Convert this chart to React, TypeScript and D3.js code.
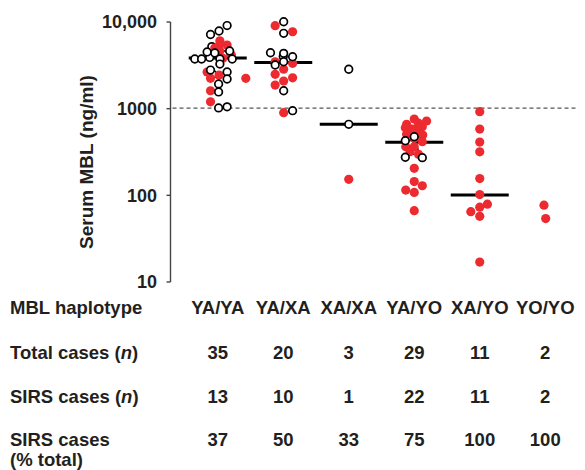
import * as d3 from "d3";

const haplotypes = ["YA/YA", "YA/XA", "XA/XA", "YA/YO", "XA/YO", "YO/YO"];
const totalCases = [35, 20, 3, 29, 11, 2];
const sirsCases = [13, 10, 1, 22, 11, 2];
const sirsPercent = [37, 50, 33, 75, 100, 100];
const medians = [3850, 3420, 660, 409, 101, null];
const yTicks = [10, 100, 1000, 10000];
const cutoff = 1000;

// each point: [serum MBL (ng/ml), jitter slot, SIRS case (1) or not (0)]
// listed in drawing order
const yaya = [
  [5200, -0.7, 0], [2500, -0.6, 0], [4200, 0.7, 0], [3900, -0.95, 0],
  [6080, 0.25, 1], [5290, 0.15, 1], [5430, 1.1, 1], [4630, 0.25, 1], [4160, 1.6, 1],
  [3810, 0.6, 1], [2650, -1.25, 1], [2440, 0.15, 1], [2240, -0.85, 1], [1610, -0.85, 1],
  [1200, -0.85, 1], [2240, 3.3, 1], [5000, -0.35, 1],
  [9100, 1.1, 0], [7870, 0.15, 0], [7170, -0.85, 0], [4510, -1.25, 0], [4630, 1.4, 0],
  [3740, -2.7, 0], [3740, -1.9, 0], [4390, -0.35, 0], [3740, 0.25, 0], [3740, 1.7, 0],
  [3270, 0.25, 0], [2790, -0.85, 0], [2650, 1.1, 0], [2200, 1.1, 0], [1930, 0.1, 0],
  [1560, 0.1, 0], [1020, 0.1, 0], [1050, 1.1, 0],
];
const yaxa = [
  [4000, 0, 0],
  [9060, -0.95, 1], [7720, 1.1, 1], [3480, -0.95, 1], [3340, 1.1, 1], [2850, 0.05, 1],
  [2490, -0.95, 1], [2270, 1.1, 1], [2080, 0.05, 1], [1870, -0.95, 1], [899, 0.05, 1],
  [10070, 0.05, 0], [7410, 0.05, 0], [4420, -1.5, 0], [4350, 0.05, 0], [3980, 1.1, 0],
  [3480, 0.05, 0], [3190, -0.95, 0], [1610, 0.05, 0], [947, 1.1, 0],
];
const xaxa = [
  [2850, 0, 0], [660, 0, 0], [153, 0, 1],
];
const yayo = [
  [520, 0.5, 0], [390, -0.5, 0], [330, 0, 0],
  [760, 0, 1], [721, 1.45, 1], [660, -0.9, 1], [620, 0.95, 1], [603, -1.05, 1],
  [582, -0.2, 1], [560, 0.4, 1], [680, 0.5, 1], [497, 1.0, 1], [506, -0.9, 1],
  [455, 0, 1], [416, 0.95, 1], [364, -1.0, 1], [364, 0, 1], [319, -0.5, 1],
  [297, 0.5, 1], [205, 0, 1], [144, 0, 1], [129, 0.95, 1], [115, -1.0, 1],
  [108, 0, 1], [66.5, 0, 1],
  [475, 0, 0], [427, -1.05, 0], [275, -1.05, 0], [272, 0.95, 0],
];
const xayo = [
  [922, 0, 1], [582, 0, 1], [412, 0, 1], [318, 0, 1], [156, 0, 1], [102, 0, 1],
  [79, 0.9, 1], [73, 0, 1], [64.7, -1.05, 1], [57.3, 0, 1], [17, 0, 1],
];
const yoyo = [
  [77, -0.15, 1], [54, 0.05, 1],
];
const groups = [yaya, yaxa, xaxa, yayo, xayo, yoyo];

const FONT = "'Liberation Sans', Arial, Helvetica, sans-serif";
const RED = "#ec2a30";
const INK = "#231f20";

export default function App() {
  const width = 585;
  const height = 470;

  const x = d3.scaleBand().domain(haplotypes).range([185, 578]).padding(0);
  const y = d3.scaleLog().domain([10, 10000]).range([282, 22]);
  const jitter = d3.scaleLinear().domain([-1, 1]).range([-8.5, 8.5]);
  const cx = (i: number) => (x(haplotypes[i]) as number) + x.bandwidth() / 2;
  const axisX = 170.5;

  const rows = [
    { label: "Total cases", italic: "n", values: totalCases, yPos: 359 },
    { label: "SIRS cases", italic: "n", values: sirsCases, yPos: 403 },
  ];

  return (
    <svg
      width={width}
      height={height}
      style={{ position: "absolute", left: 0, top: 0, background: "#fff" }}
      fontFamily={FONT}
      fontWeight="bold"
    >
      {/* y axis */}
      <line x1={axisX} x2={axisX} y1={y(10000)} y2={y(10)} stroke="#444" strokeWidth={1.4} />
      {yTicks.map((t) => (
        <g key={t}>
          <line x1={axisX - 4} x2={axisX} y1={y(t)} y2={y(t)} stroke="#444" strokeWidth={1.4} />
          <text
            x={157}
            y={y(t)}
            dy="0.36em"
            textAnchor="end"
            fontSize={18}
            fill={INK}
          >
            {d3.format(t >= 10000 ? "," : "d")(t)}
          </text>
        </g>
      ))}
      <text
        transform={`translate(93, 162) rotate(-90)`}
        textAnchor="middle"
        fontSize={19}
        fill={INK}
      >
        Serum MBL (ng/ml)
      </text>

      {/* cutoff */}
      <line
        x1={axisX + 2}
        x2={576}
        y1={y(cutoff) - 0.5}
        y2={y(cutoff) - 0.5}
        stroke="#555"
        strokeWidth={1.3}
        strokeDasharray="4,3"
      />

      {/* medians */}
      {medians.map((m, i) =>
        m == null ? null : (
          <line
            key={"m" + i}
            x1={cx(i) - 29}
            x2={cx(i) + 29}
            y1={y(m)}
            y2={y(m)}
            stroke="#000"
            strokeWidth={3}
          />
        )
      )}

      {/* points */}
      {groups.map((g, i) =>
        g.map((d, j) =>
          d[2] ? (
            <circle key={i + "-" + j} cx={cx(i) + jitter(d[1])} cy={y(d[0])} r={4.6} fill={RED} />
          ) : (
            <circle
              key={i + "-" + j}
              cx={cx(i) + jitter(d[1])}
              cy={y(d[0])}
              r={3.8}
              fill="#fff"
              stroke="#000"
              strokeWidth={1.7}
            />
          )
        )
      )}

      {/* table */}
      <g fontSize={18.5} fill={INK}>
        <text x={10} y={314}>MBL haplotype</text>
        {haplotypes.map((h, i) => (
          <text key={h} x={cx(i)} y={314} textAnchor="middle">{h}</text>
        ))}
        {rows.map((r) => (
          <g key={r.label}>
            <text x={10} y={r.yPos}>
              {r.label} (<tspan fontStyle="italic">{r.italic}</tspan>)
            </text>
            {r.values.map((v, i) => (
              <text key={i} x={cx(i)} y={r.yPos} textAnchor="middle">{v}</text>
            ))}
          </g>
        ))}
        <text x={10} y={446}>SIRS cases</text>
        <text x={10} y={466}>(% total)</text>
        {sirsPercent.map((v, i) => (
          <text key={i} x={cx(i)} y={446} textAnchor="middle">{v}</text>
        ))}
      </g>
    </svg>
  );
}
